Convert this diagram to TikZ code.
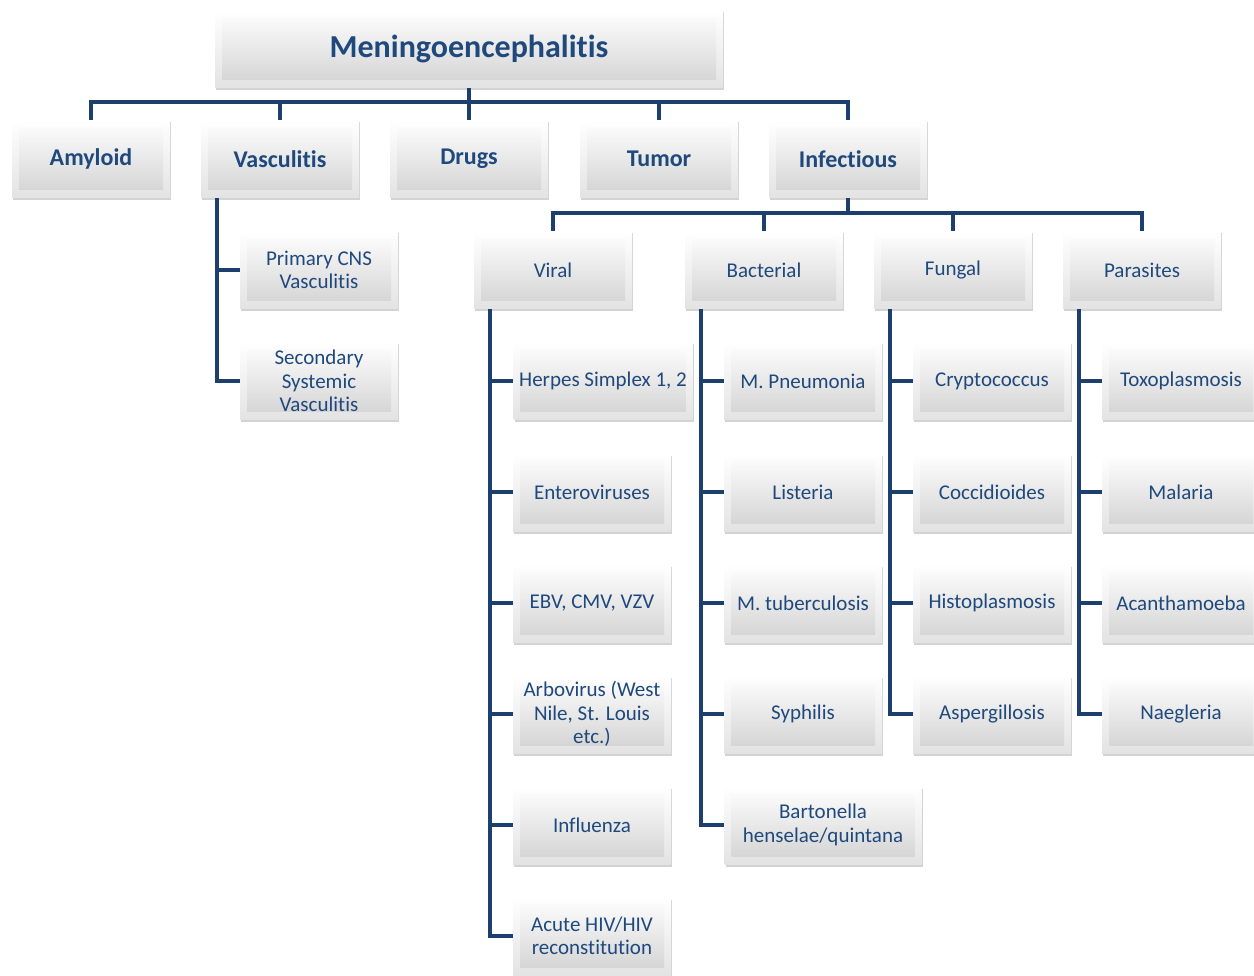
\documentclass[tikz,border=0pt]{standalone}
\usepackage{fontspec}
\setmainfont{Carlito}[Ligatures=NoCommon]
\usetikzlibrary{shadows}
\definecolor{linenavy}{HTML}{1C3F6E}
\definecolor{textnavy}{HTML}{1F497D}
\begin{document}
\begin{tikzpicture}[x=1pt,y=1pt]
  \tikzstyle{box}=[rectangle, minimum width=158pt, minimum height=78pt, inner sep=2pt,
    align=center, text=textnavy, font=\fontsize{21}{23.5}\selectfont,
    top color=white, bottom color=gray!22,
    drop shadow={shadow xshift=1pt, shadow yshift=-2.5pt, opacity=0.35},
    path picture={\shade[top color=white, bottom color=gray!36]
      ([shift={(7pt,-8pt)}]path picture bounding box.north west) rectangle
      ([shift={(-7pt,8pt)}]path picture bounding box.south east);}]
  \tikzstyle{head}=[box, font=\bfseries\fontsize{24}{28}\selectfont]
  \tikzstyle{conn}=[draw=linenavy, line width=4.5pt]
  \useasboundingbox (0,0) rectangle (1254,-976);

  % root and first level
  \node[box, minimum width=508pt, font=\bfseries\fontsize{32}{36}\selectfont] (root) at (469,-49) {Meningoencephalitis};
  \node[head] (amyloid) at (91,-159) {Amyloid};
  \node[head] (vasc) at (280,-159) {Vasculitis};
  \node[head] (drugs) at (469,-159) {Drugs};
  \node[head] (tumor) at (659,-159) {Tumor};
  \node[head] (infect) at (848,-159) {Infectious};

  % vasculitis
  \node[box] (pcns) at (319,-270) {Primary CNS\\Vasculitis};
  \node[box] (secsys) at (319,-381) {Secondary\\Systemic\\Vasculitis};

  % infectious groups
  \node[box] (viral) at (553,-270) {Viral};
  \node[box] (bact) at (764,-270) {Bacterial};
  \node[box] (fungal) at (953,-270) {Fungal};
  \node[box] (paras) at (1142,-270) {Parasites};

  % viral
  \node[box, minimum width=179pt] (hsv) at (603,-381) {Herpes Simplex 1, 2};
  \node[box] (entero) at (592,-492) {Enteroviruses};
  \node[box] (ebv) at (592,-603) {EBV, CMV, VZV};
  \node[box] (arbo) at (592,-714) {Arbovirus (West\\Nile, St. Louis\\etc.)};
  \node[box] (flu) at (592,-825) {Influenza};
  \node[box] (hiv) at (592,-936) {Acute HIV/HIV\\reconstitution};

  % bacterial
  \node[box] (mpneu) at (803,-381) {M. Pneumonia};
  \node[box] (list) at (803,-492) {Listeria};
  \node[box] (mtb) at (803,-603) {M. tuberculosis};
  \node[box] (syph) at (803,-714) {Syphilis};
  \node[box, minimum width=197pt] (bart) at (823,-825) {Bartonella\\henselae/quintana};

  % fungal
  \node[box] (crypto) at (992,-381) {Cryptococcus};
  \node[box] (cocci) at (992,-492) {Coccidioides};
  \node[box] (histo) at (992,-603) {Histoplasmosis};
  \node[box] (asper) at (992,-714) {Aspergillosis};

  % parasites
  \node[box] (toxo) at (1181,-381) {Toxoplasmosis};
  \node[box] (malaria) at (1181,-492) {Malaria};
  \node[box] (acanth) at (1181,-603) {Acanthamoeba};
  \node[box] (naeg) at (1181,-714) {Naegleria};

  % connectors
  \path (root.south) ++(0,-14) coordinate (bus1);
  \draw[conn] (root.south) -- (bus1);
  \foreach \n in {amyloid,vasc,drugs,tumor,infect}
    \draw[conn] (bus1) -| (\n.north);
  \path (infect.south) ++(0,-15) coordinate (bus2);
  \draw[conn] (infect.south) -- (bus2);
  \foreach \n in {viral,bact,fungal,paras}
    \draw[conn] (bus2) -| (\n.north);

  \foreach \n in {pcns,secsys}
    \draw[conn] ([xshift=16pt]vasc.south west) |- (\n.west);
  \foreach \n in {hsv,entero,ebv,arbo,flu,hiv}
    \draw[conn] ([xshift=16pt]viral.south west) |- (\n.west);
  \foreach \n in {mpneu,list,mtb,syph,bart}
    \draw[conn] ([xshift=16pt]bact.south west) |- (\n.west);
  \foreach \n in {crypto,cocci,histo,asper}
    \draw[conn] ([xshift=16pt]fungal.south west) |- (\n.west);
  \foreach \n in {toxo,malaria,acanth,naeg}
    \draw[conn] ([xshift=16pt]paras.south west) |- (\n.west);
\end{tikzpicture}
\end{document}
